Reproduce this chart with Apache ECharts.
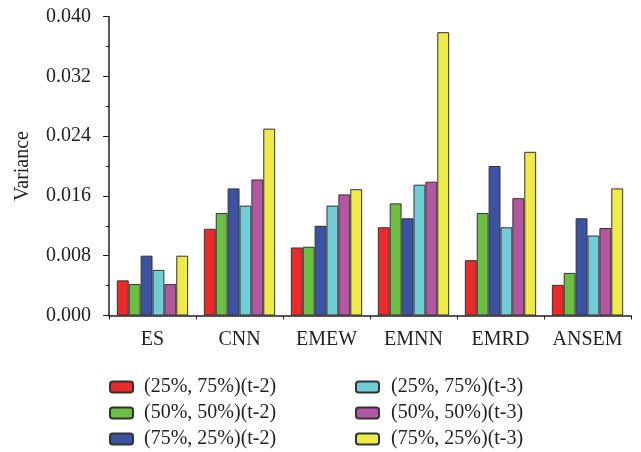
<!DOCTYPE html>
<html>
<head>
<meta charset="utf-8">
<script src="https://cdn.jsdelivr.net/npm/echarts@6/dist/echarts.min.js"></script>
<style>html,body{margin:0;padding:0;background:#fff;}#c{width:641px;height:452px;}</style>
</head>
<body>
<div id="c"></div>
<script>
var categories = ['ES', 'CNN', 'EMEW', 'EMNN', 'EMRD', 'ANSEM'];
var seriesNames = ['(25%, 75%)(t-2)', '(50%, 50%)(t-2)', '(75%, 25%)(t-2)', '(25%, 75%)(t-3)', '(50%, 50%)(t-3)', '(75%, 25%)(t-3)'];
var s25_75_t2 = [0.0047, 0.0116, 0.0091, 0.0118, 0.0074, 0.0041];
var s50_50_t2 = [0.0042, 0.0137, 0.0092, 0.0150, 0.0137, 0.0057];
var s75_25_t2 = [0.0080, 0.0170, 0.0120, 0.0130, 0.0200, 0.0130];
var s25_75_t3 = [0.0061, 0.0147, 0.0147, 0.0175, 0.0118, 0.0107];
var s50_50_t3 = [0.0042, 0.0182, 0.0162, 0.0179, 0.0157, 0.0117];
var s75_25_t3 = [0.0080, 0.0250, 0.0169, 0.0379, 0.0219, 0.0170];
var yTicks = [0.000, 0.008, 0.016, 0.024, 0.032, 0.040];
var colors = ['#ed2a2a', '#6cbe45', '#3b53a2', '#70ccd7', '#b457a2', '#eeea48'];
var allData = [s25_75_t2, s50_50_t2, s75_25_t2, s25_75_t3, s50_50_t3, s75_25_t3];

var fontFam = '"Liberation Serif", "Times New Roman", serif';
var txt = '#231f20';

var series = allData.map(function (d, i) {
  return {
    name: seriesNames[i],
    type: 'bar',
    data: d,
    barGap: '0%',
    barCategoryGap: '18%',
    itemStyle: { color: colors[i], borderColor: '#333333', borderWidth: 1 }
  };
});

var chart = echarts.init(document.getElementById('c'));
chart.setOption({
  animation: false,
  textStyle: { fontFamily: fontFam },
  grid: [
    { left: 109, right: 10, top: 16.5, bottom: 136.5, containLabel: false },
    { left: 109, right: 10, top: 16.5, bottom: 136.5, containLabel: false }
  ],
  legend: [
    {
      data: seriesNames.slice(0, 3),
      orient: 'vertical', left: 109, top: 377, padding: 0,
      itemWidth: 23, itemHeight: 11, itemGap: 6,
      textStyle: { fontFamily: fontFam, fontSize: 20, color: txt, lineHeight: 20, padding: [0, 0, 0, 6] }
    },
    {
      data: seriesNames.slice(3, 6),
      orient: 'vertical', left: 355, top: 377, padding: 0,
      itemWidth: 23, itemHeight: 11, itemGap: 6,
      textStyle: { fontFamily: fontFam, fontSize: 20, color: txt, lineHeight: 20, padding: [0, 0, 0, 7] }
    }
  ],
  xAxis: [
    {
      type: 'category', gridIndex: 0, data: categories,
      axisLine: { lineStyle: { color: txt, width: 1.5 } },
      axisTick: { alignWithLabel: true, interval: 0, length: 7, lineStyle: { color: txt } },
      axisLabel: { interval: 0, fontFamily: fontFam, fontSize: 20, color: txt, margin: 14 }
    },
    {
      type: 'category', gridIndex: 1, data: categories,
      axisLine: { show: false },
      axisTick: { show: true, interval: 0, length: 4, lineStyle: { color: txt } },
      axisLabel: { show: false, interval: 0 }
    }
  ],
  yAxis: [
    {
      type: 'value', gridIndex: 0, min: 0, max: 0.04, interval: 0.008,
      name: 'Variance', nameLocation: 'middle', nameGap: 76,
      nameTextStyle: { fontFamily: fontFam, fontSize: 20, color: txt },
      axisLine: { show: true, lineStyle: { color: txt, width: 1.5 } },
      axisTick: { show: true, length: 6, lineStyle: { color: txt } },
      minorTick: { show: true, splitNumber: 2, length: 3, lineStyle: { color: txt } },
      splitLine: { show: false },
      axisLabel: {
        fontFamily: fontFam, fontSize: 20, color: txt, margin: 18,
        formatter: function (v) { return v.toFixed(3); }
      }
    },
    {
      type: 'value', gridIndex: 1, min: 0, max: 0.04, show: false
    }
  ],
  series: series
});
</script>
</body>
</html>
